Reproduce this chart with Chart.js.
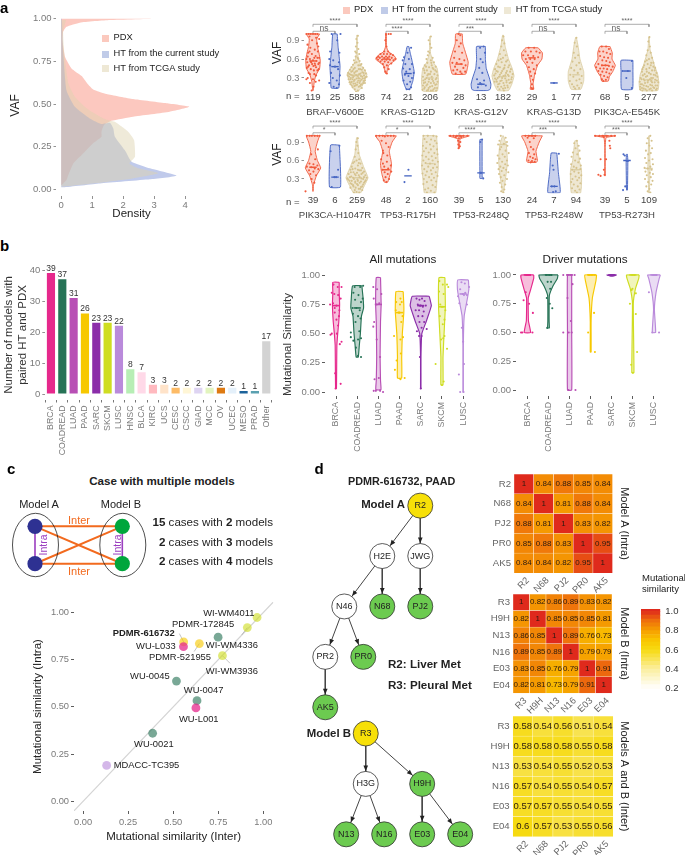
<!DOCTYPE html>
<html><head><meta charset="utf-8">
<style>html,body{margin:0;padding:0;background:#fff;width:685px;height:855px;overflow:hidden}
#p{position:relative;width:685px;height:855px;font-family:'Liberation Sans',Arial,sans-serif}
canvas{position:absolute}.t{position:absolute;white-space:nowrap;line-height:1;color:#222}.s{position:absolute}</style>
<script src="https://cdn.jsdelivr.net/npm/chart.js@4"></script></head><body><div id="p"></div>
<script>
// ---------- panel a, density ----------
const densityPDX=[[3.01,1],[1.57,.992],[.6,.977],[.17,.953],[.06,.924],[.04,.875],[.12,.777],[.33,.709],[.66,.664],[.84,.621],[1.03,.586],[1.46,.559],[2.32,.529],[3.4,.504],[4.13,.484],[3.5,.455],[2.32,.426],[1.62,.402],[1.38,.377],[1.3,.338],[1.3,.309],[1.03,.27],[.66,.201],[.39,.152],[.25,.094],[.17,.055],[.01,.025]];
const densityHT=[[.02,1],[.06,.816],[.17,.58],[.44,.484],[.92,.416],[1.3,.383],[1.57,.39],[1.68,.357],[1.73,.309],[2.05,.23],[2.27,.162],[2.86,.123],[3.72,.08],[2.86,.059],[1.25,.035],[.06,.012]];
const densityTCGA=[[.15,.992],[.06,.93],[.09,.816],[.23,.62],[.44,.543],[.82,.475],[1.35,.416],[1.73,.396],[2.16,.338],[2.35,.289],[2.38,.191],[2.2,.152],[2.5,.123],[3.13,.094],[2.3,.064],[1.25,.039],[.06,.016]];
// ---------- panel a, violin outlines [VAF, half width] ----------
const sBrafP=[[1,.3],[.92,.17],[.8,.2],[.7,.27],[.58,.33],[.45,.3],[.35,.14],[.25,.06],[.1,.01]];
const sBrafH=[[1,.1],[.8,.14],[.6,.2],[.48,.23],[.3,.2],[.14,.17]];
const sBrafT=[[.98,.01],[.7,.02],[.55,.1],[.45,.3],[.36,.45],[.25,.35],[.15,.2],[.07,.02]];
const sG12dP=[[1,.02],[.8,.02],[.72,.1],[.66,.35],[.6,.47],[.55,.3],[.5,.12],[.42,.06],[.37,.02]];
const sG12dH=[[.8,.04],[.7,.1],[.55,.2],[.4,.28],[.25,.22],[.12,.08]];
const sG12dT=[[.96,.01],[.7,.02],[.55,.15],[.45,.33],[.3,.38],[.2,.38],[.09,.33]];
const sG12vP=[[1,.15],[.85,.17],[.7,.3],[.55,.42],[.45,.38],[.36,.3]];
const sG12vH=[[.8,.2],[.6,.2],[.45,.24],[.3,.38],[.2,.45],[.12,.42],[.1,.3]];
const sG12vT=[[.98,.02],[.8,.1],[.6,.25],[.45,.42],[.33,.5],[.2,.4],[.1,.25]];
const sG13dP=[[.78,.28],[.7,.47],[.6,.45],[.5,.25],[.35,.12],[.2,.05],[.12,.08]];
const sG13dT=[[.94,.02],[.8,.1],[.6,.18],[.4,.35],[.25,.35],[.12,.22]];
const sE545P=[[.8,.23],[.7,.33],[.6,.32],[.5,.47],[.4,.35],[.32,.2],[.25,.15]];
const sE545H=[[.58,.27],[.4,.27],[.12,.25]];
const sE545T=[[.95,.01],[.75,.05],[.5,.25],[.35,.4],[.22,.45],[.1,.4]];
const sH1047P=[[1,.3],[.9,.2],[.75,.1],[.6,.2],[.48,.35],[.35,.15],[.2,.02],[.1,.01]];
const sH1047H=[[.85,.2],[.17,.25]];
const sH1047T=[[.97,.02],[.7,.1],[.5,.3],[.32,.5],[.2,.35],[.07,.15]];
const sR175P=[[1,.47],[.9,.28],[.75,.15],[.55,.25],[.4,.2],[.25,.08]];
const sR175T=[[1,.3],[.7,.35],[.5,.38],[.3,.32],[.07,.25]];
const sR248qP=[[1,.47],[.98,.3],[.95,.05],[.8,.02]];
const sR248qH=[[.94,.05],[.4,.05],[.31,.05]];
const sR248qT=[[1,.02],[.85,.15],[.6,.2],[.4,.15],[.08,.02]];
const sR248wP=[[1,.47],[.9,.33],[.75,.18],[.6,.25],[.57,.2]];
const sR248wH=[[.72,.13],[.4,.2],[.08,.28]];
const sR248wT=[[.92,.05],[.6,.15],[.45,.25],[.2,.25],[.07,.2]];
const sR273P=[[1,.47],[.97,.05],[.8,.01],[.35,.01]];
const sR273H=[[.7,.02],[.6,.04],[.12,.02]];
const sR273T=[[1,.01],[.5,.05],[.07,.01]];
// ---------- panel a, points as flat lists: jitter (1/100 group), VAF (1/100) ----------
const pBrafP=[-30,100,-20,100,-10,100,0,100,10,100,20,100,28,92,18,85,-25,83,-12,78,8,75,22,72,-22,70,-5,68,12,65,28,62,-30,60,-14,60,0,58,16,57,-26,55,-8,55,8,53,24,52,-18,50,2,49,14,47,-28,46,-10,44,20,42,-20,38,6,36,-30,28,12,24,-14,22,2,16,-6,10,28,26,-16,96,14,94,-4,90,24,80,-16,72,6,62,20,62,-24,64,-10,56,28,54,-4,52,-22,48,10,50,26,44,4,42,-14,36,14,34,-24,30,0,28];
const pBrafH=[-15,100,25,100,10,90,-22,72,20,70,-26,60,-8,58,18,55,-22,50,0,48,14,44,-18,38,22,34,-10,30,8,26,-26,22,18,20,-6,16,8,14];
const pBrafT=[4,97,-3,92,2,86,-5,80,6,76,-8,72,10,68,-6,64,3,62,-14,58,12,57,-2,55,20,52,-18,51,6,50,-25,47,28,46,-10,46,14,44,-32,43,36,42,-20,41,0,41,24,39,-40,38,-12,38,40,37,10,36,-28,35,32,34,-4,34,18,33,-36,32,-18,31,44,32,6,30,26,29,-30,28,-10,27,36,26,14,25,-24,24,2,23,28,22,-16,21,-30,20,18,19,-6,18,8,16,-20,15,22,14,-10,12,4,10,-4,8,-4,70,6,60,-10,54,14,50,-16,44,8,44,22,43,-26,40,-6,40,30,38,-34,36,16,37,-22,34,4,33,-14,33,24,32,-42,34,38,31,-28,30,12,29,-2,29,34,29,-20,28,20,27,-38,28,6,26,-14,25,30,25,-26,23,12,22,-8,21,22,20,-34,23,36,22,0,19,-12,17,14,17,-24,18];
const pG12dP=[0,100,12,100,22,100,-3,90,2,80,-8,72,10,72,-25,68,-10,68,5,68,20,68,32,66,-35,64,-18,64,0,64,15,64,-42,62,-28,62,-8,62,8,62,26,62,42,60,-36,59,-18,59,2,59,18,59,34,58,-25,56,-6,56,10,55,24,53,-14,52,4,50,-8,47,12,44,-3,40,4,37];
const pG12dH=[-18,63,-24,58,14,78,-2,70,4,60,-12,52,18,52,-22,45,8,44,-8,40,26,38,-14,35,2,33,18,30,-20,26,10,24,-4,20,14,15,-6,12,6,12];
const pG12dT=[4,96,-6,90,0,84,6,78,-8,72,-2,70,12,62,-16,60,4,58,18,55,-12,54,-24,50,8,50,26,48,-4,47,-30,45,16,44,-14,42,30,40,4,40,-24,38,-8,36,20,36,34,34,-32,32,8,32,-16,30,26,28,-4,28,-30,26,14,25,34,24,-22,23,4,22,-12,20,24,19,-32,18,10,17,-24,15,32,14,-6,14,16,12,-34,11,-14,10,4,10,28,10,-10,66,6,54,-18,48,12,46,-26,42,24,42,0,36,-12,34,30,30,-22,28,10,28,-6,24,-28,22,18,22,30,20,-16,18,0,16,-26,13,22,14,-8,11,12,10];
const pG12vP=[-2,100,6,98,-10,90,8,85,0,80,-18,72,14,70,-22,62,2,60,24,58,-30,54,-10,54,10,52,30,50,-18,48,20,46,-8,43,-26,42,6,40,28,40,-15,37,12,37];
const pG12vH=[12,80,-4,78,18,70,-2,60,8,55,-8,46,6,38,-18,28,14,26,-4,22,2,20,22,18,-14,15];
const pG12vT=[2,96,-4,90,6,85,-8,80,4,74,-14,68,12,66,0,62,-20,58,20,58,-6,55,-30,52,28,50,8,50,-14,47,-36,44,36,44,2,44,18,41,-24,40,-8,38,44,36,-40,34,10,34,26,33,-18,32,-4,30,38,28,-30,27,16,26,-12,25,-38,24,30,22,2,22,-22,20,20,18,-8,16,10,14,-16,12,4,10,-10,60,14,56,-22,48,6,46,24,47,-30,41,-4,41,32,40,14,38,-34,37,-14,35,22,35,2,33,40,31,-24,30,10,29,-36,29,26,27,-6,26,-28,24,16,23,36,23,-16,21,6,18,-24,16,22,15,0,13];
const pG13dP=[-15,78,10,78,-30,72,-5,72,20,72,35,70,-40,66,-18,66,6,65,28,63,-28,60,-8,60,12,60,-22,55,2,54,22,50,-14,47,8,44,-8,40,14,37,-4,33,4,27,0,20,-2,14,4,13];
const pG13dH=[0,22];
const pG13dT=[2,94,-6,86,4,80,-10,70,10,66,-4,62,-16,56,14,54,2,50,-22,46,20,44,-8,42,8,38,-26,35,26,33,-12,32,16,28,-28,25,2,26,24,22,-18,20,6,18,-10,16,14,14,-4,13];
const pE545P=[-15,80,5,80,18,76,-25,72,-8,72,8,70,24,68,-22,65,-4,63,14,62,-12,58,6,57,22,55,-30,52,-14,50,2,50,18,49,35,48,-40,47,-22,45,-6,45,10,44,28,43,-30,41,-12,40,6,39,20,37,-20,35,-4,33,12,31,-14,28,4,27,-8,25];
const pE545H=[22,57,-20,41,4,41,-3,30,22,14];
const pE545T=[2,95,-3,88,4,80,-6,74,8,70,-12,66,14,62,0,60,-18,56,20,54,-6,52,8,50,-26,47,28,46,-12,44,14,42,-32,40,34,38,0,38,-20,36,22,35,-8,33,38,32,-38,30,10,30,-24,28,28,27,-4,26,-42,24,42,23,14,23,-18,22,-32,20,6,19,30,18,-12,17,-40,16,20,15,36,13,-24,13,2,12,-10,10,14,10,-30,10,-10,58,10,54,-22,50,20,48,2,46,-30,44,26,42,-10,40,8,36,-28,34,30,34,-14,32,18,30,-34,28,4,28,36,26,-20,26,10,25,-6,23,26,23,-38,20,-24,18,14,18,38,18,-4,16,24,14,-32,14,8,13,-16,12,-40,12,32,11];
const pH1047P=[-28,100,-15,100,-5,100,8,100,20,100,30,100,22,78,-8,70,10,62,-16,55,2,54,20,52,-28,50,-8,49,8,47,24,46,-18,44,2,42,-12,38,14,36,-6,30,6,24,-34,10];
const pH1047H=[20,84,-20,75,14,45,-3,33,5,33,-15,17];
const pH1047T=[4,96,-3,90,2,84,-6,78,6,72,-10,66,10,62,-2,60,-18,56,16,55,4,52,-24,50,24,48,-8,47,-30,45,10,44,32,42,-16,41,0,40,-38,38,20,38,38,36,-6,36,-26,34,12,33,44,32,-44,31,28,30,-14,30,2,29,-34,27,36,26,18,26,-8,24,-24,22,28,21,4,20,-16,18,18,17,-30,16,8,14,-10,12,24,12,-2,9,10,8,-14,8,-12,58,8,56,-20,46,18,44,4,45,-28,41,26,40,-10,38,8,36,-32,33,32,33,-18,32,20,31,-40,29,4,27,-24,27,40,28,-8,26,12,24,-30,23,32,24,0,22,-18,20,24,18,-6,16,14,14];
const pR175P=[-45,100,-30,100,-15,100,-5,99,8,100,22,100,35,100,-20,92,0,88,12,82,-14,76,-12,72,6,68,-22,62,-14,55,4,58,22,52,-8,50,10,47,-16,45,24,42,-6,41,8,38,-2,33,14,30,-10,28,2,25];
const pR175H=[-16,25,2,45];
const pR175T=[-30,100,-10,100,15,100,30,99,-25,95,5,94,22,92,-15,90,30,88,0,86,-32,84,16,83,-18,80,32,78,4,78,-28,75,-6,73,20,72,34,70,-35,68,8,67,-18,66,26,64,-6,62,-30,60,12,60,36,58,-20,56,0,55,22,54,-36,52,-8,50,32,49,14,48,-26,46,4,44,-14,42,26,41,-34,39,8,38,-20,36,34,35,-4,33,18,32,-28,30,6,28,28,26,-14,25,-30,22,12,20,24,17,-8,15,-22,13,4,11,-14,8,20,8];
const pR248qP=[-40,100,-25,100,-10,100,5,100,20,100,38,100,-15,98,10,98,0,96,-4,92,6,90,-3,86,4,83,-2,80];
const pR248qH=[5,94,-3,90,0,40,-2,40,10,31];
const pR248qT=[-10,100,12,97,-16,92,18,90,4,87,-22,86,20,84,-8,82,-14,78,12,76,26,72,-2,70,-24,68,8,66,-16,63,18,60,-4,58,-26,56,10,54,22,52,-12,50,2,48,-20,46,14,45,-6,43,24,41,-18,38,6,36,-10,33,18,30,-2,27,-14,24,10,21,-6,17,6,13,-8,10,2,8];
const pR248wP=[-30,100,-15,100,0,100,15,100,-20,97,8,96,-10,90,-5,82,6,78,-14,72,10,70,-8,66,4,64,16,62,-16,60,0,59,12,58,-6,57];
const pR248wH=[22,71,-6,52,-2,45,2,18,-10,18,8,10,-4,9];
const pR248wT=[4,92,-8,88,12,84,-2,80,16,76,-14,73,6,70,-20,66,18,63,-4,60,10,57,-22,54,22,52,-10,50,2,48,20,46,-18,45,-8,42,12,40,-24,38,24,36,-2,34,14,32,-16,30,6,28,-22,25,20,23,-10,21,8,18,-18,15,16,13,-4,11,4,8];
const pR273P=[-45,100,-25,100,-10,100,8,100,28,100,45,100,-5,98,20,92,22,84,24,80,-20,62,5,62,-5,45,-30,37,-20,35,-2,37];
const pR273H=[-16,70,-10,68,0,59,4,59,-8,18,-18,12];
const pR273T=[6,100,-6,96,12,92,-10,88,2,84,14,80,-14,76,8,72,-4,70,-18,64,16,62,0,60,-12,56,18,54,6,50,-20,48,-6,47,12,45,-16,42,4,40,18,38,-10,36,8,33,-18,30,16,27,-4,25,10,21,-12,18,2,14,-6,10,6,8];
const topGenes=['BRAF-V600E','KRAS-G12D','KRAS-G12V','KRAS-G13D','PIK3CA-E545K'];
const botGenes=['PIK3CA-H1047R','TP53-R175H','TP53-R248Q','TP53-R248W','TP53-R273H'];
const topN=[[119,25,588],[74,21,206],[28,13,182],[29,1,77],[68,5,277]];
const botN=[[39,6,259],[48,2,160],[39,5,130],[24,7,94],[39,5,109]];
const topMedian=[[.57,.48,.35],[.6,.37,.3],[.52,.2,.32],[.62,.22,.35],[.5,.41,.27]];
const botMedian=[[.49,.33,.32],[.45,.35,.55],[1,.4,.86],[1,.18,.45],[1,.6,.47]];
const topInner=['ns','****','***','ns','ns'];
const botInner=['*','*','****','***','***'];
const topShapes=[[sBrafP,sBrafH,sBrafT],[sG12dP,sG12dH,sG12dT],[sG12vP,sG12vH,sG12vT],[sG13dP,[],sG13dT],[sE545P,sE545H,sE545T]];
const botShapes=[[sH1047P,sH1047H,sH1047T],[sR175P,[],sR175T],[sR248qP,sR248qH,sR248qT],[sR248wP,sR248wH,sR248wT],[sR273P,sR273H,sR273T]];
const topPoints=[[pBrafP,pBrafH,pBrafT],[pG12dP,pG12dH,pG12dT],[pG12vP,pG12vH,pG12vT],[pG13dP,pG13dH,pG13dT],[pE545P,pE545H,pE545T]];
const botPoints=[[pH1047P,pH1047H,pH1047T],[pR175P,pR175H,pR175T],[pR248qP,pR248qH,pR248qT],[pR248wP,pR248wH,pR248wT],[pR273P,pR273H,pR273T]];
// ---------- panel b ----------
const tumorTypes=['BRCA','COADREAD','LUAD','PAAD','SARC','SKCM','LUSC','HNSC','BLCA','KIRC','UCS','CESC','CSCC','GIAD','MCC','OV','UCEC','MESO','PRAD','Other'];
const modelCounts=[39,37,31,26,23,23,22,8,7,3,3,2,2,2,2,2,2,1,1,17];
const tumorColors=['#E6288C','#267356','#B84FB5','#F7C800','#8B2DA9','#CFDD22','#BA8ADB','#B7EEB5','#FFD9E8','#FFB9BF','#FFE3C9','#FDBB66','#FFF6D6','#DED4F2','#E2F4BE','#DE7A12','#E4F0FA','#1C639B','#5AA0B0','#D3D3D3'];
const violinTypes=['BRCA','COADREAD','LUAD','PAAD','SARC','SKCM','LUSC'];
const allShapes=[[[.94,.15],[.85,.15],[.75,.17],[.6,.13],[.5,.08],[.4,.04],[.2,.03],[.03,.02]],[[.91,.22],[.8,.28],[.72,.3],[.65,.2],[.5,.15],[.4,.1],[.3,.05]],[[.98,.1],[.75,.13],[.6,.1],[.3,.08],[.1,.1],[.02,.12]],[[.86,.17],[.75,.2],[.68,.2],[.5,.13],[.3,.1],[.12,.1]],[[.82,.4],[.74,.5],[.68,.4],[.6,.25],[.5,.05],[.3,.01],[.03,.01]],[[.98,.14],[.73,.16],[.5,.1],[.3,.05],[.06,.05]],[[.96,.25],[.88,.27],[.8,.2],[.65,.05],[.4,.01],[0,.01]]];
const driverShapes=[[[1,.3],[.97,.3],[.87,.15],[.8,.04],[.6,.05],[.5,.15]],[[1,.45],[.97,.42],[.9,.2],[.82,.04],[.6,.03],[.54,.04]],[[1,.1],[.5,.1],[0,.1]],[[1,.28],[.95,.25],[.8,.08],[.6,.02],[.33,.02]],[[1,.23],[.99,.05]],[[1,.3],[.97,.28],[.88,.12],[.75,.02],[.15,.05]],[[1,.3],[.97,.25],[.85,.1],[.7,.02],[.5,.08]]];
const allPoints=[[-12,92,8,90,26,90,-20,85,-8,84,10,83,22,80,-28,75,-14,76,2,74,-6,72,16,70,-6,68,14,65,2,62,10,57,-20,50,-26,49,4,50,26,43,18,41,-4,16,22,7,-2,3],[-12,90,14,90,28,91,-18,85,6,83,26,80,-10,79,18,77,-22,72,-4,72,12,70,-20,67,4,65,16,63,-8,60,-30,51,-30,47,10,52,-18,44,4,45,18,46,-6,38,4,31,18,30],[-24,90,-6,88,14,84,-22,80,-8,75,4,76,-20,60,-24,56,8,30,-18,11,2,12,-22,1,-12,1,8,1,22,0,-8,45],[-16,77,4,80,10,77,-18,70,2,75,14,65,-4,68,0,68,8,60,-26,48,16,47,4,45,-14,27,-22,19,6,33,4,11,24,12],[-20,80,-6,79,6,80,18,78,-14,75,-4,74,0,74,10,73,24,74,-24,70,-8,70,14,69,-12,65,8,65,16,60,-6,60,4,55,-18,52,28,54,-8,48,4,48,-4,30,0,3],[-12,95,4,92,24,92,30,90,-14,86,8,84,-8,75,-2,73,4,73,16,70,-10,65,12,62,4,58,-4,45,24,37,6,46,-30,24,12,48,8,9,0,6],[-8,94,8,93,28,90,-14,88,10,85,18,83,-2,84,4,83,-24,82,18,75,-18,76,-6,55,0,43,4,24,-20,15,-14,0,2,0]];
const driverPoints=[[-6,100,4,100,0,100,12,100,-30,50,-24,50,24,50,-18,78,-8,85,8,75,26,67],[-10,100,4,100,14,100,-4,94,12,94,8,88,-8,80,6,75,18,71,-6,54],[-30,100,-8,100,8,100,24,100,14,92,-10,80,6,60,-30,50,-4,50,10,50,-6,0,28,0],[-8,100,6,100,20,100,-4,100,-12,50,16,67,20,33],[-6,100,0,100,6,100],[-4,100,6,100,-2,88,-6,87,14,84,-14,75,14,66,-8,22,20,33,0,15],[-4,100,4,100,10,100,-24,85,-8,50,24,50]];
const allMedian=[.74,.72,.75,.68,.74,.73,.84];
const driverMedian=[1,1,1,1,1,1,1];
// ---------- panel c ----------
const caseNames=['WI-WM4011','PDMR-172845','PDMR-616732','WU-L033','WI-WM4336','PDMR-521955','WI-WM3936','WU-0045','WU-0047','WU-L001','WU-0021','MDACC-TC395'];
const interSim=[.965,.911,.558,.557,.645,.749,.773,.518,.632,.626,.386,.131];
const intraSim=[.972,.919,.843,.818,.834,.868,.770,.636,.532,.494,.36,.19];
const caseColors=['#CFDD22','#CFDD22','#F7C800','#E6288C','#F7C800','#267356','#CFDD22','#267356','#267356','#E6288C','#267356','#BA8ADB'];
const labelX=[.666,.494,.165,.294,.681,.366,.681,.261,.559,.532,.283,.170];
const labelY=[.995,.938,.887,.818,.822,.760,.686,.658,.584,.434,.299,.188];
const simTicks=[0,.25,.5,.75,1];
// ---------- panel d ----------
const nodeNames=['R2','H2E','JWG','N46','N68','PJ2','PR2','PR0','AK5','R3','H3G','H9H','N13','N16','E03','E04'];
const nodeSlot=[6,4,6,2,4,6,1,3,1,3.13,3.13,6.1,2.1,4.1,6.1,8.1];
const nodeDepth=[0,1,1,2,2,2,3,3,4,4.52,5.52,5.52,6.52,6.52,6.52,6.52];
const nodeKind=['root','mid','mid','mid','leaf','leaf','mid','leaf','leaf','root','mid','leaf','leaf','leaf','leaf','leaf'];
const edges=[['R2','H2E'],['R2','JWG'],['H2E','N46'],['H2E','N68'],['JWG','PJ2'],['N46','PR2'],['N46','PR0'],['PR2','AK5'],['R3','H3G'],['R3','H9H'],['H3G','N13'],['H3G','N16'],['H9H','E03'],['H9H','E04']];
const rowsA=['R2','N68','PJ2','PR0','AK5'];
const matA=[[1,.84,.88,.85,.84],[.84,1,.81,.88,.84],[.88,.81,1,.83,.82],[.85,.88,.83,1,.95],[.84,.84,.82,.95,1]];
const rowsB=['R3','H9H','N13','N16','E03','E04'];
const matB=[[1,.82,.86,.89,.83,.82],[.82,1,.85,.85,.85,.81],[.86,.85,1,.89,.76,.73],[.89,.85,.89,1,.79,.79],[.83,.85,.76,.79,1,.91],[.82,.81,.73,.79,.91,1]];
const matInter=[[.58,.54,.56,.51,.54],[.58,.58,.58,.55,.58],[.53,.54,.55,.52,.53],[.57,.54,.55,.54,.57],[.57,.57,.55,.54,.55],[.6,.57,.53,.55,.56]];
const scaleEdges=[.2,.24,.28,.32,.36,.4,.44,.48,.52,.56,.6,.64,.68,.72,.76,.8,.84,.88,.92,.96,1,1.02];
const scaleTicks=[.2,.4,.6,.8,1];

// ---------- helpers ----------
const FF="'Liberation Sans',Arial,sans-serif";
Chart.defaults.font.family=FF;
const host=document.getElementById('p');
const GRAY='#7a7a7a';
function T(html,x,y,o={}){const d=document.createElement('div');d.className='t';d.innerHTML=html;
 const a=o.a||'c',tx=a==='l'?'0':a==='r'?'-100%':'-50%';
 d.style.cssText=`left:${x}px;top:${y}px;font-size:${o.s||10}px;color:${o.c||'#222'};font-weight:${o.b?'bold':'normal'};transform:translate(${tx},-50%)${o.r?` rotate(${o.r}deg)`:''}`;
 host.appendChild(d);}
function SW(x,y,s,c){const d=document.createElement('div');d.className='s';d.style.cssText=`left:${x-s/2}px;top:${y-s/2}px;width:${s}px;height:${s}px;background:${c}`;host.appendChild(d);}
function textLayer(items){return{id:'textLayer',afterDatasetsDraw(ch){const g=ch.ctx;g.save();g.textBaseline='middle';
 for(const it of items(ch)){g.font=`${it.b?'bold ':''}${it.s||9}px ${FF}`;g.fillStyle=it.c||'#333';g.textAlign=it.a||'center';g.fillText(it.t,it.x,it.y);}g.restore();}};}
function mk(box,area,type,datasets,scales,plugins=[],labels){
 const [l,t,r,b]=box,[al,at,ar,ab]=area;
 const c=document.createElement('canvas');c.width=r-l;c.height=b-t;c.style.cssText=`left:${l}px;top:${t}px;width:${r-l}px;height:${b-t}px`;host.appendChild(c);
 const hasR=!!scales.y2,hasX=scales.x.display!==false,hasY=scales.y.display!==false;
 if(hasX)scales.x.afterFit=s=>{s.height=b-ab};
 if(hasY)scales.y.afterFit=s=>{s.width=al-l};
 if(hasR)scales.y2.afterFit=s=>{s.width=r-ar};
 return new Chart(c,{type,data:{labels,datasets},plugins,options:{responsive:false,animation:false,maintainAspectRatio:false,
  layout:{autoPadding:false,padding:{top:at-t,right:hasR?0:r-ar,left:hasY?0:al-l,bottom:hasX?0:b-ab}},
  plugins:{legend:{display:false},tooltip:{enabled:false}},elements:{point:{hoverRadius:0}},events:[],scales}});}
function lin(min,max,vals,fmt,o={}){const s={type:'linear',min,max,bounds:'data',reverse:!!o.reverse,stacked:!!o.stacked,border:{display:false},
  grid:{display:true,drawOnChartArea:false,drawTicks:!!o.len,tickLength:o.len||0,tickColor:o.tc||'#777',tickWidth:o.tw||.8,color:'rgba(0,0,0,0)'},
  afterBuildTicks:a=>{a.ticks=vals.map(v=>({value:v}))},
  ticks:{autoSkip:false,includeBounds:false,padding:o.pad??2,color:o.c||GRAY,font:{size:o.s||9.3,lineHeight:o.lh||1.2},callback:fmt,minRotation:o.rot||0,maxRotation:o.rot||0}};
 if(o.title)s.title={display:true,text:o.title,color:o.tcol||'#222',font:{size:o.ts||11.5},padding:0,align:o.talign||'center'};
 return s;}
function fxy(a,c){const r=[];for(let i=0;i<a.length;i+=2)r.push({x:c+a[i]/100,y:a[i+1]/100});return r;}
function violin(c,shape,stroke,fill,w=.9){if(!shape.length)return null;
 const R=shape.map(([y,w])=>({x:c+w,y})),L=shape.slice().reverse().map(([y,w])=>({x:c-w,y}));
 return{showLine:true,fill:'shape',backgroundColor:fill,borderColor:stroke,borderWidth:w,pointRadius:0,tension:.12,data:[...R,...L,R[0]]};}
function dots(c,arr,color,r=1.05){return{showLine:false,pointRadius:r,pointBorderWidth:0,pointBackgroundColor:color,data:fxy(arr,c)};}
function seg(pts,color,w){return{showLine:true,fill:false,pointRadius:0,borderColor:color,borderWidth:w,data:pts};}
function hex(c){return[parseInt(c.slice(1,3),16),parseInt(c.slice(3,5),16),parseInt(c.slice(5,7),16)];}
function alpha(c,a){const[r,g,b]=hex(c);return`rgba(${r},${g},${b},${a})`;}
const stops=[[.2,'#ffffff'],[.4,'#fbee9e'],[.6,'#f6da10'],[.7,'#f9c400'],[.8,'#f69f00'],[.9,'#ee6f0c'],[1,'#df2a1c']];
function heatColor(v){for(let i=1;i<stops.length;i++)if(v<=stops[i][0]){const[a,ca]=stops[i-1],[b,cb]=stops[i],k=(v-a)/(b-a),A=hex(ca),B=hex(cb);return`rgb(${A.map((x,j)=>Math.round(x+(B[j]-x)*k)).join(',')})`;}return stops[6][1];}

// ---------- panel a left ----------
function closed(d){return[{x:0,y:d[0][1]},...d.map(([x,y])=>({x,y})),{x:0,y:d[d.length-1][1]}];}
function dens(d,col){return{showLine:true,fill:'shape',backgroundColor:col,borderWidth:0,pointRadius:0,tension:.15,data:closed(d)};}
mk([8,5,225,221],[56,15,207,196],'scatter',[dens(densityTCGA,'rgba(222,212,175,.48)'),dens(densityHT,'rgba(130,150,215,.5)'),dens(densityPDX,'rgba(248,130,110,.44)')],
 {x:lin(-.17,4.705,[0,1,2,3,4],v=>String(v),{len:3,pad:1,title:'Density',s:9.5}),
  y:lin(-.039,1.022,[0,.25,.5,.75,1],v=>v.toFixed(2),{len:2.5,pad:2,title:'VAF',s:9.5,ts:12})});
[['PDX','#FBC9BE',38.3],['HT from the current study','#C0CBE8',54],['HT from TCGA study','#EEE8D5',68.7]].forEach(([t,c,y])=>{SW(105.7,y,7,c);T(t,113.5,y,{a:'l',s:9.35});});
// ---------- panel a violins ----------
const VC=[['#F15A3C','rgba(246,120,95,.33)','#F15A3C'],['#3F5FBF','rgba(90,115,200,.33)','#4A68C4'],['#DCCFA6','rgba(222,207,165,.5)','#D6C38E']];
function violinRow(box,area,ymin,ymax,genes,ns,meds,shapes,points,inner,lv,pad){
 const ds=[],tv=[],tl=[],items=[];const u=(f,g)=>1+f*3.318+g;
 genes.forEach((gene,f)=>{
  for(let g=0;g<3;g++){const c=u(f,g);tv.push(c);tl.push(g===1?[String(ns[f][g]),gene]:[String(ns[f][g])]);
   ds.push(dots(c,points[f][g],VC[g][2]));
   ds.push(seg([{x:c-.17,y:meds[f][g]},{x:c+.17,y:meds[f][g]}],VC[g][0],1.4));
   const v=violin(c,shapes[f][g],VC[g][0],VC[g][1]);if(v)ds.push(v);}
  const a=u(f,0),m=u(f,1),e=u(f,2);
  ds.push(seg([{x:a,y:lv.outer-.04},{x:a,y:lv.outer},{x:e,y:lv.outer},{x:e,y:lv.outer-.04}],'#888',.7));
  ds.push(seg([{x:a,y:lv.inner-.04},{x:a,y:lv.inner},{x:m,y:lv.inner},{x:m,y:lv.inner-.04}],'#888',.7));
  items.push({ux:u(f,1),uy:lv.outerT,t:'****',s:7,c:'#666'});
  items.push({ux:(a+m)/2,uy:inner[f]==='ns'?lv.nsT:lv.innerT,t:inner[f],s:inner[f]==='ns'?8.5:7,c:'#666'});
 });
 const sc={x:lin(.591,17.227,tv,(v,i)=>tl[i],{pad,c:'#444',s:9.6,lh:1.52}),
  y:lin(ymin,ymax,[.3,.6,.9],v=>v.toFixed(1),{len:2.5,pad:2,title:'VAF',s:9.3,ts:12})};
 mk(box,area,'scatter',ds,sc,[textLayer(ch=>items.map(i=>({...i,x:ch.scales.x.getPixelForValue(i.ux),y:ch.scales.y.getPixelForValue(i.uy)})))]);}
violinRow([270,0,680,126],[304,14,670,92],.076,1.318,topGenes,topN,topMedian,topShapes,topPoints,topInner,{outer:1.154,inner:1.043,outerT:1.2,innerT:1.085,nsT:1.084},-1.5);
violinRow([270,102,680,226],[304,116,670,193.3],.068,1.322,botGenes,botN,botMedian,botShapes,botPoints,botInner,{outer:1.159,inner:1.05,outerT:1.205,innerT:1.09,nsT:1.09},0);
T('n =',292.7,96,{s:9.6,c:'#444'});T('n =',292.7,201.7,{s:9.6,c:'#444'});
[['PDX','#FBC9BE',346.7,354],['HT from the current study','#C0CBE8',384.7,392],['HT from TCGA study','#EEE8D5',507.7,515.7]].forEach(([t,c,x,tx])=>{SW(x,10,7,c);T(t,tx,10,{a:'l',s:9.35});});
// ---------- panel b ----------
mk([2,255,280,462],[45.3,270,272.7,400],'bar',[{data:modelCounts,backgroundColor:tumorColors,barPercentage:.72,categoryPercentage:1}],
 {x:{type:'category',border:{display:false},grid:{display:true,offset:true,drawOnChartArea:false,drawTicks:true,tickLength:2.5,tickColor:'#777',color:'rgba(0,0,0,0)'},ticks:{autoSkip:false,padding:3,color:GRAY,font:{size:8.8},minRotation:90,maxRotation:90}},
  y:lin(-1.935,40,[0,10,20,30,40],v=>String(v),{len:3,pad:2,title:['Number of models with','paired HT and PDX'],tcol:'#333',s:9.5})},
 [textLayer(ch=>modelCounts.map((v,i)=>({t:String(v),x:ch.scales.x.getPixelForValue(i),y:ch.scales.y.getPixelForValue(v)-4.5,s:8.5,c:'#333'})))],tumorTypes);
function simViolins(box,area,xmin,xmax,ymin,ymax,shapes,pts,med,title){
 const ds=[];shapes.forEach((s,i)=>{const c=i+1,col=tumorColors[i];ds.push(dots(c,pts[i],col));
  ds.push(seg([{x:c-.17,y:med[i]},{x:c+.17,y:med[i]}],col,1.6));ds.push(violin(c,s,col,alpha(col,.3),1.15));});
 mk(box,area,'scatter',ds,{x:lin(xmin,xmax,[1,2,3,4,5,6,7],(v,i)=>violinTypes[i],{len:3,pad:3,rot:90,s:8.8,tc:'#333'}),
  y:lin(ymin,ymax,[0,.25,.5,.75,1],v=>v.toFixed(2),{len:3,pad:2,title,talign:'start',s:9.5,tc:'#333',ts:11.5,tcol:'#333'})});}
simViolins([281,262,480,462],[325,270,475,396],.48,7.56,-.034,1.045,allShapes,allPoints,allMedian,'Mutational Similarity');
simViolins([480,262,680,462],[516,270,666,396],.46,7.57,-.052,1.043,driverShapes,driverPoints,driverMedian,undefined);
T('All mutations',403,259,{s:11.7});T('Driver mutations',585,259,{s:11.7});
// ---------- panel c, schematic ----------
const modelCol=[0,0,1,1],modelRow=[0,1,0,1];
const schemPts=modelCol.map((x,i)=>({x,y:modelRow[i]}));
const orange='#F26A1E',purple='#9B3FC0';
mk([0,495,150,590],[0,495,150,590],'scatter',[
 {showLine:false,pointRadius:7.6,pointBorderWidth:0,pointBackgroundColor:['#2E3192','#2E3192','#00A63C','#00A63C'],data:schemPts},
 seg([schemPts[0],schemPts[1]],purple,1.6),seg([schemPts[2],schemPts[3]],purple,1.6),
 seg([schemPts[0],schemPts[2]],orange,2),seg([schemPts[1],schemPts[3]],orange,2),seg([schemPts[0],schemPts[3]],orange,2),seg([schemPts[1],schemPts[2]],orange,2)],
 {x:{type:'linear',display:false,min:-.4009,max:1.3173},y:{type:'linear',display:false,reverse:true,min:-.837,max:1.703}},
 [{id:'ellipses',afterDatasetsDraw(ch){const g=ch.ctx,sx=ch.scales.x,sy=ch.scales.y;g.save();g.strokeStyle='#222';g.lineWidth=.8;
   [0,1].forEach(m=>{g.beginPath();g.ellipse(sx.getPixelForValue(m)+.5,sy.getPixelForValue(.5),23,31.7,0,0,Math.PI*2);g.stroke();});g.restore();}}]);
T('Case with multiple models',162,481,{s:11.6,b:1});
T('Model A',39,504,{s:11});T('Model B',121,504,{s:11});
T('Inter',79,519.7,{s:11,c:orange});T('Inter',79,571,{s:11,c:orange});
T('Intra',42.5,545,{s:10.5,c:purple,r:-90});T('Intra',116.5,545,{s:10.5,c:purple,r:-90});
T('<b>15</b> cases with <b>2</b> models',273,522,{a:'r',s:11.6});T('<b>2</b> cases with <b>3</b> models',273,542,{a:'r',s:11.6});T('<b>2</b> cases with <b>4</b> models',273,561,{a:'r',s:11.6});
T('a',0,7,{a:'l',s:15,b:1,c:'#000'});T('b',0,245,{a:'l',s:15,b:1,c:'#000'});T('c',7,468,{a:'l',s:15,b:1,c:'#000'});T('d',314.5,468,{a:'l',s:15,b:1,c:'#000'});
// ---------- panel c, scatter ----------
const linkFrom=[[.534,.887],[.616,.792],[.88,.88],[.815,.73]],linkTo=[2,4,1,6];
mk([31,590,280,844],[74,602,273.3,811],'scatter',[
 {showLine:false,pointRadius:4.4,pointBorderWidth:0,pointBackgroundColor:caseColors.map(c=>alpha(c,c==='#E6288C'?.75:.62)),data:interSim.map((x,i)=>({x,y:intraSim[i]}))},
 ...linkFrom.map((f,i)=>seg([{x:f[0],y:f[1]},{x:interSim[linkTo[i]],y:intraSim[linkTo[i]]}],'#aaa',.7)),
 seg([{x:-.05,y:-.05},{x:1.055,y:1.054}],'#d4d4d4',1.2)],
 {x:lin(-.05,1.055,simTicks,v=>v.toFixed(2),{len:3,pad:3,title:'Mutational similarity (Inter)',s:9.3,tc:'#333'}),
  y:lin(-.051,1.054,simTicks,v=>v.toFixed(2),{len:3,pad:2,title:'Mutational similarity (Intra)',s:9.3,tc:'#333'})},
 [textLayer(ch=>caseNames.map((t,i)=>({t,x:ch.scales.x.getPixelForValue(labelX[i]),y:ch.scales.y.getPixelForValue(labelY[i]),a:'left',s:9.4,c:'#222',b:t==='PDMR-616732'})))]);
// ---------- panel d, trees ----------
const kindColor={root:'#F7E008',mid:'#ffffff',leaf:'#6CCB50'};
const idx=n=>nodeNames.indexOf(n);
const nodePts=nodeNames.map((n,i)=>({x:nodeSlot[i],y:nodeDepth[i]}));
mk([300,490,475,855],[300,490,475,855],'scatter',[
 {showLine:false,pointRadius:12.5,pointBorderWidth:.8,pointBorderColor:'#333',pointBackgroundColor:nodeKind.map(k=>kindColor[k]),data:nodePts},
 ...edges.map(([a,b])=>seg([nodePts[idx(a)],nodePts[idx(b)]],'#444',1))],
 {x:{type:'linear',display:false,min:-.33,max:8.88},y:{type:'linear',display:false,reverse:true,min:-.31,max:6.93}},
 [{id:'arrows',afterDatasetsDraw(ch){const g=ch.ctx,sx=ch.scales.x,sy=ch.scales.y;g.save();g.fillStyle='#222';
   edges.forEach(([a,b])=>{const A=nodePts[idx(a)],B=nodePts[idx(b)],x0=sx.getPixelForValue(A.x),y0=sy.getPixelForValue(A.y),x1=sx.getPixelForValue(B.x),y1=sy.getPixelForValue(B.y),th=Math.atan2(y1-y0,x1-x0),tx=x1-13*Math.cos(th),ty=y1-13*Math.sin(th);
    g.beginPath();g.moveTo(tx,ty);g.lineTo(tx-6*Math.cos(th-.4),ty-6*Math.sin(th-.4));g.lineTo(tx-6*Math.cos(th+.4),ty-6*Math.sin(th+.4));g.closePath();g.fill();});g.restore();}},
  textLayer(ch=>nodeNames.map((t,i)=>({t,x:ch.scales.x.getPixelForValue(nodeSlot[i]),y:ch.scales.y.getPixelForValue(nodeDepth[i]),s:9,c:'#222'})))]);
T('PDMR-616732, PAAD',401.7,480.7,{s:10.8,b:1});T('Model A',405,505,{a:'r',s:11.4,b:1});T('Model B',351,734,{a:'r',s:11.4,b:1});
T('R2: Liver Met',388,663.7,{a:'l',s:11.6,b:1});T('R3: Pleural Met',388,684.7,{a:'l',s:11.6,b:1});
// ---------- panel d, heat maps ----------
function heat(box,area,rows,cols,mat,size,title){
 const ds=rows.map((r,i)=>({data:cols.map(()=>1),backgroundColor:mat[i].map(heatColor),borderColor:'rgba(255,255,255,.75)',borderWidth:.5,barPercentage:1,categoryPercentage:1,_row:i})).reverse();
 const n=rows.length;
 mk(box,area,'bar',ds,{x:{type:'category',stacked:true,border:{display:false},grid:{display:false,drawTicks:false},ticks:{autoSkip:false,padding:2,labelOffset:4,color:'#666',font:{size:9.3},minRotation:45,maxRotation:45}},
  y:lin(0,n,rows.map((r,i)=>i+.5),v=>rows[n-1-Math.floor(v)],{stacked:true,pad:3,c:'#666',s:9.6}),
  y2:{position:'right',display:true,min:0,max:1,border:{display:false},grid:{display:false,drawTicks:false},ticks:{display:false},title:{display:true,text:title,color:'#222',font:{size:11},padding:0}}},
  [{id:'cellText',afterDatasetsDraw(ch){const g=ch.ctx;g.save();g.font=`${size}px ${FF}`;g.fillStyle='#2a1a10';g.textAlign='center';g.textBaseline='middle';
   ds.forEach((d,k)=>ch.getDatasetMeta(k).data.forEach((el,j)=>{g.fillText(String(mat[d._row][j]),el.x,(el.y+el.base)/2);}));g.restore();}}],cols);}
heat([480,458,631,600],[514,474,612.7,573],rowsA,rowsA,matA,8,'Model A (Intra)');
heat([480,578,631,720],[513,594,612,693.3],rowsB,rowsB,matB,8,'Model B (Intra)');
heat([480,700,631,855],[512.7,716,613.3,836.7],rowsB,rowsA,matInter,9.5,'Models A and B (Inter)');
// ---------- colour key ----------
const bands=scaleEdges.slice(0,-1).map((lo,i)=>({data:[[lo,scaleEdges[i+1]]],backgroundColor:heatColor((lo+scaleEdges[i+1])/2),barPercentage:1,categoryPercentage:1,borderWidth:0,grouped:false}));
(function(){const c=document.createElement('canvas');c.width=45;c.height=110;c.style.cssText='left:640.7px;top:595px;width:45px;height:110px';host.appendChild(c);
 const sc=lin(.139,1.0585,scaleTicks,v=>v.toFixed(1),{pad:5,c:'#333',s:9.5});sc.position='right';sc.afterFit=s=>{s.width=25.7};
 new Chart(c,{type:'bar',data:{labels:[''],datasets:bands},options:{responsive:false,animation:false,layout:{autoPadding:false,padding:0},plugins:{legend:{display:false},tooltip:{enabled:false}},events:[],
  scales:{x:{display:false},y:sc}}});})();
T('Mutational',642,577.7,{a:'l',s:9.5});T('similarity',642,589,{a:'l',s:9.5});
</script></body></html>
